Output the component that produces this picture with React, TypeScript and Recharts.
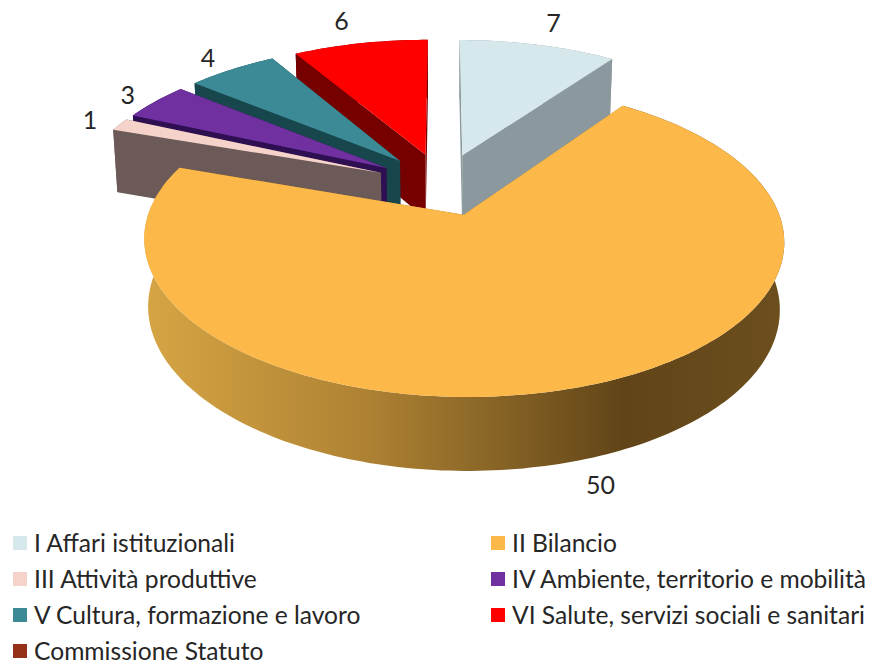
import React from 'react';
import { PieChart, Pie, Legend } from 'recharts';

const categories = [
  'I Affari istituzionali',
  'II Bilancio',
  'III Attività produttive',
  'IV Ambiente, territorio e mobilità',
  'V Cultura, formazione e lavoro',
  'VI Salute, servizi sociali e sanitari',
  'Commissione Statuto',
];
const values = [7, 50, 1, 3, 4, 6, 0];

// painter's order: sectors are walked anticlockwise so that II Bilancio paints last
const drawOrder = [0, 5, 4, 3, 2, 6, 1];

const topColors = ['#d6e8ec', '#fcb848', '#f5d3cb', '#7030a0', '#3b8a96', '#ff0000', '#953119'];
const wallColors = ['#8b999e', '#a67c2e', '#6b5a57', '#2e0f52', '#17474d', '#760000', '#4a180c'];
const labelReach = [1.46, 1.33, 1.34, 1.35, 1.38, 1.47, 1.4];
const labelNudge = [0, 5, 0, 0, 0, -5, 0];

const total = values.reduce((a, b) => a + b, 0);
const firstAngle = 90 - (values[0] / total) * 360;

const pieData = drawOrder.map((i) => ({
  name: categories[i],
  value: values[i],
  fill: topColors[i],
  wall: wallColors[i],
  reach: labelReach[i],
  nudge: labelNudge[i],
}));

// flat disc seen in perspective
const K = 0.16;
const TILT = 142 / 305;
const EXPLODE = 0.22;
const DEPTH = 65;
const DEPTH_K = 0.1;
const SHRINK = 0.013;

const project = (cx: number, cy: number, R: number, u: number, v: number, down = 0) => {
  const w = 1 + K * v;
  return [
    cx + ((R * u) / w) * (1 - SHRINK * down),
    cy - (R * TILT * v) / w + (down * DEPTH) / (1 + DEPTH_K * v),
  ];
};

const toPath = (pts: number[][]) =>
  'M' + pts.map((p) => `${p[0].toFixed(1)},${p[1].toFixed(1)}`).join('L') + 'Z';

const Slice3D = (props: any) => {
  const { cx, cy, outerRadius: R, startAngle, endAngle, fill, payload, value } = props;
  if (!value) return null;
  const wall = payload.wall;
  // recharts angles run anticlockwise from 3 o'clock, here clockwise from 12
  const a0 = ((90 - startAngle) * Math.PI) / 180;
  const a1 = ((90 - endAngle) * Math.PI) / 180;
  const mid = (a0 + a1) / 2;
  const ou = Math.sin(mid) * EXPLODE;
  const ov = Math.cos(mid) * EXPLODE;
  const steps = Math.max(4, Math.ceil(Math.abs(a1 - a0) / 0.02));
  const rim = (down: number) => {
    const out: number[][] = [];
    for (let i = 0; i <= steps; i++) {
      const a = a0 + ((a1 - a0) * i) / steps;
      out.push(project(cx, cy, R, ou + Math.sin(a), ov + Math.cos(a), down));
    }
    return out;
  };
  const top = rim(0);
  const bottom = rim(1);
  const apexTop = project(cx, cy, R, ou, ov, 0);
  const apexBottom = project(cx, cy, R, ou, ov, 1);
  const gradId = `wall-${value}`;
  const xs = top.map((p) => p[0]);
  const isBig = value === Math.max(...values);
  return (
    <g>
      {isBig && (
        <defs>
          <linearGradient
            id={gradId}
            gradientUnits="userSpaceOnUse"
            x1={Math.min(...xs)}
            x2={Math.max(...xs)}
            y1={0}
            y2={0}
          >
            <stop offset="0%" stopColor="#d6a544" />
            <stop offset="35%" stopColor="#ae8233" />
            <stop offset="75%" stopColor="#614518" />
            <stop offset="100%" stopColor="#6d4f1e" />
          </linearGradient>
        </defs>
      )}
      <path
        d={toPath([...top, ...[...bottom].reverse()])}
        fill={isBig ? `url(#${gradId})` : wall}
      />
      <path d={toPath([apexTop, top[0], bottom[0], apexBottom])} fill={wall} />
      <path d={toPath([apexTop, top[steps], bottom[steps], apexBottom])} fill={wall} />
      <path d={toPath([apexTop, ...top])} fill={fill} />
    </g>
  );
};

const renderLabel = (props: any) => {
  const { cx, cy, outerRadius: R, midAngle, value, payload } = props;
  if (!value) return null;
  const a = ((90 - midAngle) * Math.PI) / 180;
  const front = Math.cos(a) < 0 ? 1 : 0;
  const [x, y] = project(cx, cy, R, Math.sin(a) * payload.reach, Math.cos(a) * payload.reach, front);
  return (
    <text x={x + payload.nudge} y={y} textAnchor="middle" dominantBaseline="central" fill="#262626" fontSize={25} fontFamily="Lato">
      {value}
    </text>
  );
};

const LegendGrid = () => (
  <div
    style={{
      display: 'grid',
      gridTemplateColumns: '478px 380px',
      rowGap: 0,
      fontFamily: 'Lato',
      fontSize: 24.6,
      lineHeight: '24px',
      color: '#262626',
    }}
  >
    {categories.map((name, i) => (
      <div key={name} style={{ display: 'flex', alignItems: 'center', height: 36 }}>
        <span style={{ width: 14, height: 14, marginRight: 7, background: topColors[i] }} />
        <span style={{ whiteSpace: 'nowrap' }}>{name}</span>
      </div>
    ))}
  </div>
);

export default function App() {
  return (
    <div style={{ width: 879, height: 664, background: '#fff' }}>
      <style>{'body{margin:0}'}</style>
      <PieChart width={879} height={664} margin={{ top: 0, right: 0, bottom: 0, left: 0 }}>
        <Pie
          data={pieData}
          dataKey="value"
          nameKey="name"
          cx={442.5}
          cy={184}
          outerRadius={305}
          startAngle={firstAngle}
          endAngle={firstAngle + 360}
          stroke="none"
          shape={Slice3D}
          inactiveShape={Slice3D}
          label={renderLabel}
          labelLine={false}
          isAnimationActive={false}
        />
        <Legend
          content={<LegendGrid />}
          layout="vertical"
          wrapperStyle={{ position: 'absolute', left: 13, top: 525, width: 860 }}
        />
      </PieChart>
    </div>
  );
}
